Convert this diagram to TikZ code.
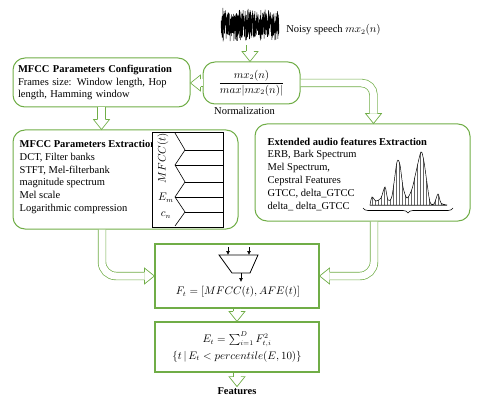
\documentclass[tikz,border=0pt]{standalone}
\usepackage{amsmath}
\usepackage{fontspec}
\setmainfont{Liberation Serif}
\usetikzlibrary{positioning,calc,arrows.meta,patterns,decorations.pathreplacing}
\definecolor{grn}{RGB}{112,173,71}
\tikzset{
  rbox/.style={draw=grn, line width=1pt, rounded corners=12pt, inner sep=0pt},
  sbox/.style={draw=grn, line width=1.2pt, inner sep=0pt},
  txt/.style={align=left, inner sep=0pt},
  hollow/.style={draw=grn, line width=0.7pt, double=white, double distance=7pt, shorten >=10pt},
  hhead/.pic={\draw[grn, line width=0.7pt, line join=miter] (-10pt,3.85pt) -- (-10pt,8pt) -- (0pt,0pt) -- (-10pt,-8pt) -- (-10pt,-3.85pt);},
  tiny/.style={-{Latex[length=4pt,width=4pt]}, line width=0.6pt}
}

\begin{document}
\begin{tikzpicture}[x=1pt,y=-1pt,font=\fontsize{10.5pt}{12.8pt}\selectfont]
\useasboundingbox (0,0) rectangle (480,404);
\pgfmathsetseed{11}

% noisy speech
\draw[line width=0.5pt] plot[domain=221:279, samples=420] (\x,{25+(12+5*rnd+6*rnd*rnd*rnd*rnd)*rand});
\node[minimum width=60pt, minimum height=40pt, inner sep=0pt] (wave) at (250,25) {};
\node[txt, right=6pt of wave, yshift=-5pt] (wavelbl) {Noisy speech $mx_2(n)$};

% boxes
\node[rbox, minimum width=97pt, minimum height=42pt] (norm) at (251.5,83) {$\dfrac{mx_2(n)}{max|mx_2(n)|}$};
\node[txt, below=3pt of norm, xshift=-7pt] (normlbl) {Normalization};
\node[rbox, minimum width=177pt, minimum height=49pt, text width=167pt, align=left] (conf) at (101.5,82.5)
  {\textbf{MFCC Parameters Configuration}\\Frames size: Window length, Hop length, Hamming window};
\node[rbox, minimum width=225pt, minimum height=99pt] (mfx) at (125.5,179.5) {};
\node[txt, anchor=west] (mfxtxt) at ([xshift=7pt,yshift=2.5pt]mfx.west)
  {\textbf{MFCC Parameters Extraction}\\DCT, Filter banks\\STFT, Mel-filterbank\\magnitude spectrum\\Mel scale\\Logarithmic compression};
\node[rbox, minimum width=215pt, minimum height=97pt] (ext) at (362.5,172.5) {};
\node[txt, anchor=west] (exttxt) at ([xshift=13pt,yshift=-1.5pt]ext.west)
  {\textbf{Extended audio features Extraction}\\ERB, Bark Spectrum\\Mel Spectrum,\\Cepstral Features\\GTCC, delta\_GTCC\\delta\_ delta\_GTCC};
\node[sbox, minimum width=164pt, minimum height=64pt] (comb) at (237,276) {};
\node[inner sep=0pt] (fcat) at (238,292) {$F_t=[MFCC(t),AFE(t)]$};
\node[sbox, minimum width=164pt, minimum height=50pt, align=center] (energy) at (237,347)
  {$E_t=\sum_{i=1}^{D}F_{t,i}^2$\\[4pt]$\{t\,|\,E_t<percentile(E,10)\}$};
\node[inner sep=1pt, below=14pt of energy] (feat) {\textbf{Features}};

% MFCC strip
\draw[fill=white, line width=0.8pt] (152,132) rectangle (223,227);
\draw[line width=0.6pt] (175,133) -- (185,150) -- (175,165) -- (185,182) -- (175,197) -- (185,212) -- (175,226);
\foreach \yy/\xx in {150/185,165/175,182/185,197/175,212/185}
  \draw[line width=0.6pt] (\xx,\yy) -- (223,\yy);
\node[rotate=90, inner sep=0pt] (mfcclbl) at (163,158) {$MFCC(t)$};
\node[inner sep=0pt] (emlbl) at (166,198) {$E_m$};
\node[inner sep=0pt] (cnlbl) at (166,215) {$c_n$};

% spectrum
\draw[black!35, line width=0.6pt] (370,205) -- (447,205);
\draw[line width=0.5pt, pattern=vertical lines, pattern color=black!60]
  plot[smooth, tension=0.5] coordinates {(370,205) (372,197) (376,201) (381,198) (385,187) (388,200) (392,196)
  (397,162) (400,165) (403,187) (407,198) (412,189) (416,172) (421,152) (424,162) (427,183) (430,202)
  (434,204) (438,194) (441,203) (447,205)} -- cycle;
\draw[line width=0.6pt, decorate, decoration={brace, mirror, amplitude=5pt}] (363,208) -- (453,208);

% mux
\draw[line width=0.8pt] (219,255) -- (258,255) -- (250,273) -- (232,273) -- cycle;
\draw[tiny] (228,247) -- (228,255);
\draw[tiny] (249,247) -- (249,255);
\draw[tiny] (241,273) -- (241,282);

% hollow arrows
\draw[hollow] (wave.south) -- (wave.south |- norm.north);
\pic[rotate=-90] at (wave.south |- norm.north) {hhead};
\draw[hollow] (norm.west) -- (conf.east |- norm.west);
\pic[rotate=180] at (conf.east |- norm.west) {hhead};
\draw[hollow] (conf.south) -- (conf.south |- mfx.north);
\pic[rotate=-90] at (conf.south |- mfx.north) {hhead};
\draw[hollow, rounded corners=12pt] (norm.east) -| ([xshift=11pt]ext.north);
\pic[rotate=-90] at ([xshift=11pt]ext.north) {hhead};
\draw[hollow, rounded corners=14pt] ([xshift=11.5pt]ext.south) |- (comb.east);
\pic[rotate=180] at (comb.east) {hhead};
\draw[hollow, rounded corners=14pt] ([xshift=-23.5pt]mfx.south) |- (comb.west);
\pic at (comb.west) {hhead};
\draw[hollow] (comb.south) -- (energy.north);
\pic[rotate=-90] at (energy.north) {hhead};
\draw[hollow] (energy.south) -- (feat.north);
\pic[rotate=-90] at (feat.north) {hhead};
\end{tikzpicture}
\end{document}
